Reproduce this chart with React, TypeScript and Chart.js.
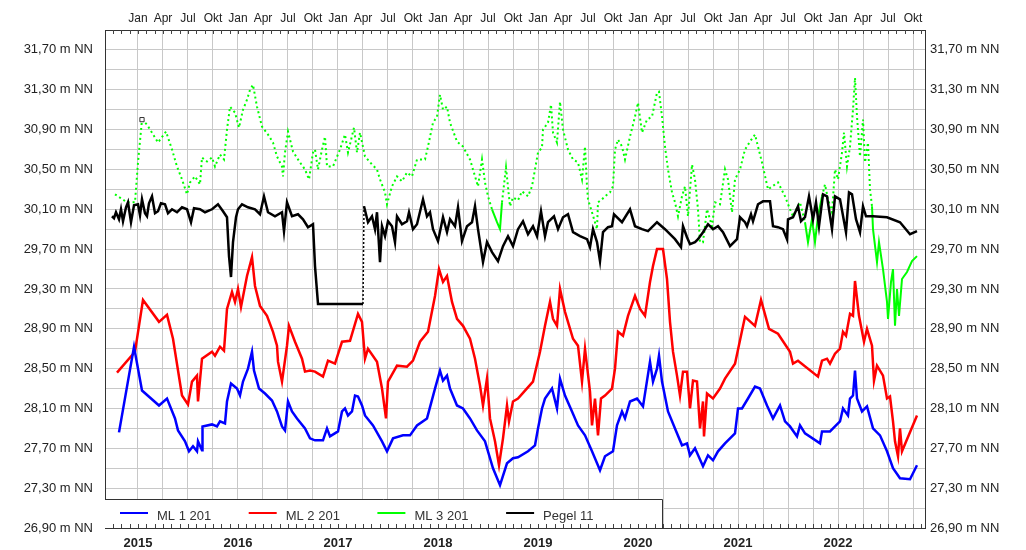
import React, { useEffect, useRef } from 'react';
import { Chart, registerables } from 'chart.js';

Chart.register(...registerables);

// ---------- data (x = decimal year, y = m NN) ----------
const ml1: [number, number][] = [
  [2014.81,27.86],[2014.96,28.72],[2015.04,28.28],[2015.21,28.13],[2015.29,28.20],[2015.37,28.00],[2015.40,27.88],[2015.47,27.77],[2015.51,27.67],[2015.55,27.72],[2015.59,27.67],[2015.60,27.77],[2015.64,27.68],[2015.645,27.92],[2015.74,27.94],[2015.79,27.92],[2015.82,27.97],[2015.87,27.95],[2015.89,28.17],[2015.93,28.35],[2015.99,28.30],[2016.02,28.23],[2016.05,28.37],[2016.10,28.50],[2016.14,28.67],[2016.16,28.48],[2016.21,28.30],[2016.27,28.25],[2016.34,28.18],[2016.39,28.07],[2016.44,27.92],[2016.47,27.88],[2016.50,28.17],[2016.54,28.07],[2016.59,28.00],[2016.67,27.90],[2016.72,27.80],[2016.77,27.78],[2016.85,27.78],[2016.89,27.90],[2016.92,27.82],[2017.00,27.87],[2017.04,28.07],[2017.07,28.10],[2017.10,28.03],[2017.14,28.07],[2017.17,28.23],[2017.20,28.22],[2017.24,28.13],[2017.27,28.03],[2017.35,27.93],[2017.44,27.77],[2017.49,27.67],[2017.55,27.80],[2017.65,27.83],[2017.72,27.83],[2017.79,27.93],[2017.89,28.00],[2017.97,28.30],[2018.02,28.48],[2018.05,28.38],[2018.09,28.43],[2018.12,28.30],[2018.19,28.13],[2018.25,28.10],[2018.32,28.00],[2018.39,27.88],[2018.47,27.77],[2018.55,27.50],[2018.62,27.33],[2018.69,27.55],[2018.75,27.60],[2018.80,27.61],[2018.90,27.67],[2018.97,27.73],[2019.00,27.90],[2019.04,28.10],[2019.07,28.20],[2019.14,28.30],[2019.19,28.10],[2019.22,28.40],[2019.27,28.23],[2019.34,28.07],[2019.40,27.93],[2019.47,27.83],[2019.54,27.67],[2019.62,27.48],[2019.67,27.62],[2019.75,27.67],[2019.79,27.93],[2019.84,28.07],[2019.87,28.00],[2019.92,28.17],[2019.99,28.20],[2020.05,28.12],[2020.12,28.57],[2020.15,28.37],[2020.19,28.50],[2020.21,28.63],[2020.24,28.37],[2020.30,28.07],[2020.37,27.90],[2020.44,27.73],[2020.49,27.75],[2020.52,27.63],[2020.57,27.70],[2020.65,27.52],[2020.70,27.63],[2020.75,27.58],[2020.80,27.67],[2020.87,27.75],[2020.97,27.85],[2021.00,28.10],[2021.04,28.10],[2021.10,28.20],[2021.17,28.32],[2021.22,28.30],[2021.29,28.13],[2021.35,28.00],[2021.42,28.13],[2021.47,27.97],[2021.52,27.92],[2021.59,27.82],[2021.62,27.93],[2021.67,27.85],[2021.82,27.75],[2021.84,27.87],[2021.92,27.87],[2021.97,27.92],[2022.02,27.97],[2022.05,28.10],[2022.10,28.03],[2022.12,28.20],[2022.15,28.23],[2022.17,28.48],[2022.19,28.20],[2022.24,28.07],[2022.29,28.12],[2022.35,27.90],[2022.42,27.83],[2022.49,27.67],[2022.55,27.50],[2022.62,27.40],[2022.72,27.39],[2022.79,27.53]
];

const ml2: [number, number][] = [
  [2014.79,28.46],[2014.97,28.67],[2015.05,29.19],[2015.21,28.97],[2015.29,29.04],[2015.35,28.80],[2015.44,28.23],[2015.50,28.14],[2015.54,28.37],[2015.59,28.43],[2015.60,28.17],[2015.64,28.60],[2015.74,28.67],[2015.77,28.63],[2015.82,28.72],[2015.86,28.68],[2015.89,29.10],[2015.94,29.27],[2015.97,29.17],[2016.00,29.30],[2016.03,29.12],[2016.09,29.43],[2016.14,29.62],[2016.17,29.33],[2016.22,29.13],[2016.29,29.03],[2016.35,28.87],[2016.39,28.73],[2016.40,28.57],[2016.44,28.37],[2016.49,28.73],[2016.51,28.93],[2016.57,28.77],[2016.64,28.60],[2016.67,28.47],[2016.72,28.48],[2016.77,28.47],[2016.85,28.42],[2016.90,28.58],[2016.97,28.55],[2017.04,28.77],[2017.12,28.78],[2017.20,29.05],[2017.24,28.97],[2017.27,28.60],[2017.30,28.70],[2017.39,28.57],[2017.44,28.30],[2017.48,28.00],[2017.50,28.37],[2017.59,28.53],[2017.69,28.52],[2017.75,28.58],[2017.82,28.77],[2017.90,28.87],[2017.97,29.23],[2018.01,29.50],[2018.05,29.37],[2018.09,29.43],[2018.14,29.17],[2018.19,29.00],[2018.25,28.93],[2018.32,28.80],[2018.37,28.60],[2018.42,28.33],[2018.45,28.13],[2018.49,28.40],[2018.52,28.00],[2018.57,27.77],[2018.61,27.53],[2018.65,27.80],[2018.69,28.13],[2018.71,27.97],[2018.75,28.17],[2018.80,28.20],[2018.87,28.28],[2018.95,28.37],[2019.02,28.67],[2019.07,28.93],[2019.12,29.17],[2019.15,29.00],[2019.19,28.93],[2019.22,29.30],[2019.27,29.07],[2019.35,28.80],[2019.40,28.73],[2019.44,28.37],[2019.47,28.70],[2019.52,28.27],[2019.54,27.93],[2019.57,28.20],[2019.60,27.83],[2019.63,28.20],[2019.67,28.23],[2019.74,28.30],[2019.77,28.50],[2019.80,28.87],[2019.85,28.83],[2019.90,29.03],[2019.97,29.23],[2020.02,29.10],[2020.07,29.03],[2020.12,29.37],[2020.15,29.53],[2020.19,29.70],[2020.25,29.70],[2020.29,29.40],[2020.32,28.97],[2020.35,28.67],[2020.39,28.43],[2020.42,28.23],[2020.45,28.47],[2020.49,28.47],[2020.52,28.10],[2020.55,28.38],[2020.59,28.37],[2020.62,27.90],[2020.65,28.17],[2020.66,27.82],[2020.69,28.25],[2020.75,28.20],[2020.82,28.30],[2020.87,28.40],[2020.97,28.55],[2021.07,29.02],[2021.17,28.93],[2021.23,29.19],[2021.31,28.90],[2021.40,28.85],[2021.52,28.67],[2021.55,28.55],[2021.60,28.58],[2021.80,28.42],[2021.84,28.58],[2021.89,28.60],[2021.92,28.55],[2021.97,28.65],[2022.02,28.70],[2022.05,28.87],[2022.08,28.83],[2022.12,29.05],[2022.15,29.03],[2022.17,29.38],[2022.21,29.03],[2022.26,28.77],[2022.29,28.90],[2022.34,28.73],[2022.36,28.38],[2022.39,28.53],[2022.45,28.43],[2022.49,28.20],[2022.52,28.22],[2022.55,27.97],[2022.57,27.77],[2022.60,27.62],[2022.62,27.90],[2022.64,27.67],[2022.79,28.03]
];

const ml3: [number, number][] = [
  [2014.77,30.25],[2014.89,30.17],[2014.97,30.17],[2015.00,30.57],[2015.04,31.00],[2015.09,30.95],[2015.20,30.77],[2015.28,30.88],[2015.34,30.70],[2015.39,30.53],[2015.44,30.40],[2015.49,30.25],[2015.52,30.37],[2015.57,30.43],[2015.62,30.35],[2015.64,30.62],[2015.69,30.58],[2015.74,30.62],[2015.77,30.53],[2015.82,30.65],[2015.86,30.60],[2015.89,30.90],[2015.92,31.13],[2015.97,31.07],[2016.01,30.92],[2016.05,31.10],[2016.09,31.20],[2016.12,31.30],[2016.15,31.35],[2016.19,31.13],[2016.24,30.93],[2016.30,30.85],[2016.35,30.77],[2016.39,30.63],[2016.44,30.53],[2016.45,30.43],[2016.47,30.67],[2016.50,30.88],[2016.55,30.68],[2016.62,30.57],[2016.67,30.50],[2016.71,30.40],[2016.75,30.67],[2016.77,30.70],[2016.80,30.50],[2016.84,30.70],[2016.87,30.83],[2016.89,30.53],[2016.95,30.53],[2017.02,30.70],[2017.07,30.85],[2017.10,30.67],[2017.16,30.92],[2017.19,30.67],[2017.22,30.87],[2017.27,30.63],[2017.34,30.55],[2017.39,30.50],[2017.42,30.40],[2017.47,30.27],[2017.49,30.15],[2017.54,30.33],[2017.59,30.43],[2017.64,30.38],[2017.69,30.47],[2017.74,30.43],[2017.79,30.60],[2017.87,30.60],[2017.90,30.73],[2017.95,30.97],[2017.99,31.03],[2018.02,31.25],[2018.05,31.10],[2018.09,31.13],[2018.12,30.97],[2018.19,30.78],[2018.25,30.73],[2018.32,30.60],[2018.35,30.50],[2018.40,30.33],[2018.44,30.60],[2018.47,30.37],[2018.50,30.23],[2018.54,30.10],[2018.59,29.97],[2018.62,29.90],[2018.64,30.17],[2018.68,30.52],[2018.72,30.13],[2018.75,30.22],[2018.80,30.19],[2018.84,30.28],[2018.90,30.23],[2018.94,30.33],[2018.97,30.50],[2019.00,30.67],[2019.04,30.72],[2019.05,30.90],[2019.10,30.97],[2019.13,31.15],[2019.15,30.87],[2019.19,30.77],[2019.22,31.18],[2019.25,30.90],[2019.30,30.70],[2019.35,30.60],[2019.40,30.57],[2019.44,30.40],[2019.47,30.73],[2019.49,30.33],[2019.50,30.20],[2019.54,30.07],[2019.59,29.90],[2019.60,30.17],[2019.64,30.20],[2019.67,30.23],[2019.72,30.27],[2019.75,30.33],[2019.77,30.70],[2019.80,30.80],[2019.84,30.73],[2019.87,30.60],[2019.92,30.83],[2019.97,31.03],[2020.00,31.17],[2020.04,30.87],[2020.09,31.00],[2020.14,31.03],[2020.19,31.27],[2020.21,31.28],[2020.24,31.03],[2020.27,30.73],[2020.30,30.50],[2020.34,30.27],[2020.37,30.17],[2020.40,30.03],[2020.44,30.23],[2020.47,30.33],[2020.50,30.03],[2020.54,30.55],[2020.57,30.40],[2020.60,30.10],[2020.62,29.77],[2020.65,29.77],[2020.69,30.10],[2020.74,29.93],[2020.77,30.17],[2020.82,30.15],[2020.87,30.50],[2020.90,30.40],[2020.94,30.07],[2020.97,30.40],[2021.02,30.50],[2021.07,30.70],[2021.12,30.78],[2021.17,30.85],[2021.24,30.57],[2021.30,30.30],[2021.40,30.37],[2021.47,30.23],[2021.52,30.10],[2021.55,30.03],[2021.62,30.17],[2021.67,29.97],[2021.70,29.77],[2021.74,30.00],[2021.77,29.77],[2021.80,30.03],[2021.84,30.23],[2021.87,30.35],[2021.90,30.20],[2021.94,30.07],[2021.97,30.50],[2022.00,30.40],[2022.04,30.67],[2022.06,30.87],[2022.09,30.53],[2022.12,30.73],[2022.15,31.10],[2022.17,31.42],[2022.19,31.03],[2022.22,30.63],[2022.25,31.00],[2022.27,30.57],[2022.30,30.77],[2022.32,30.30],[2022.34,30.13],[2022.35,29.90],[2022.39,29.57],[2022.41,29.77],[2022.45,29.50],[2022.49,29.17],[2022.50,29.00],[2022.53,29.37],[2022.55,29.50],[2022.57,28.93],[2022.59,29.30],[2022.61,29.03],[2022.64,29.40],[2022.69,29.47],[2022.74,29.58],[2022.79,29.63]
];

const pegel11: [number, number][] = [
  [2014.74,30.03],[2014.76,30.01],[2014.78,30.07],[2014.81,30.00],[2014.83,30.10],[2014.85,29.98],[2014.88,30.12],[2014.90,30.17],[2014.93,29.97],[2014.96,30.14],[2015.00,30.15],[2015.02,30.04],[2015.04,30.20],[2015.07,30.06],[2015.09,30.03],[2015.11,30.16],[2015.14,30.23],[2015.17,30.06],[2015.20,30.08],[2015.23,30.16],[2015.27,30.15],[2015.30,30.06],[2015.34,30.10],[2015.39,30.07],[2015.44,30.12],[2015.49,30.10],[2015.53,29.97],[2015.56,30.11],[2015.62,30.10],[2015.67,30.07],[2015.74,30.10],[2015.80,30.15],[2015.85,30.08],[2015.89,30.02],[2015.91,29.63],[2015.93,29.42],[2015.95,29.77],[2015.98,30.02],[2016.00,30.10],[2016.04,30.15],[2016.10,30.12],[2016.17,30.10],[2016.22,30.05],[2016.26,30.23],[2016.30,30.07],[2016.37,30.03],[2016.44,30.07],[2016.46,29.88],[2016.49,30.17],[2016.54,30.03],[2016.60,30.05],[2016.65,30.00],[2016.70,29.92],[2016.75,29.95],[2016.77,29.53],[2016.80,29.15],[2017.25,29.15],[2017.26,30.13],[2017.30,29.97],[2017.34,30.03],[2017.37,29.90],[2017.39,30.07],[2017.42,29.57],[2017.44,29.93],[2017.47,29.83],[2017.50,29.98],[2017.54,29.93],[2017.57,29.77],[2017.59,30.03],[2017.64,29.95],[2017.69,29.98],[2017.71,30.07],[2017.75,29.90],[2017.79,29.95],[2017.85,30.20],[2017.89,30.03],[2017.92,30.07],[2017.95,29.90],[2018.00,29.78],[2018.05,30.02],[2018.09,29.87],[2018.12,30.00],[2018.17,29.93],[2018.20,30.12],[2018.24,29.78],[2018.29,29.93],[2018.34,29.97],[2018.37,30.13],[2018.40,29.90],[2018.45,29.57],[2018.49,29.77],[2018.54,29.67],[2018.60,29.58],[2018.65,29.73],[2018.70,29.83],[2018.75,29.73],[2018.80,29.90],[2018.85,29.98],[2018.90,29.85],[2018.95,29.93],[2018.99,29.83],[2019.03,30.08],[2019.07,29.83],[2019.10,29.97],[2019.16,30.03],[2019.20,29.90],[2019.25,30.02],[2019.30,30.05],[2019.35,29.87],[2019.42,29.83],[2019.49,29.80],[2019.52,29.72],[2019.55,29.90],[2019.59,29.77],[2019.62,29.58],[2019.65,29.87],[2019.70,29.92],[2019.74,29.93],[2019.76,30.05],[2019.84,29.97],[2019.92,30.10],[2019.97,29.93],[2020.04,29.90],[2020.10,29.88],[2020.19,29.97],[2020.27,29.90],[2020.37,29.80],[2020.43,29.72],[2020.45,29.93],[2020.49,29.82],[2020.52,29.75],[2020.57,29.77],[2020.60,29.80],[2020.65,29.87],[2020.70,29.95],[2020.75,29.90],[2020.80,29.93],[2020.85,29.87],[2020.92,29.73],[2020.99,29.80],[2021.02,30.02],[2021.07,29.97],[2021.09,29.93],[2021.13,30.05],[2021.15,29.98],[2021.20,30.15],[2021.25,30.18],[2021.32,30.18],[2021.35,29.93],[2021.40,29.92],[2021.45,29.90],[2021.49,29.80],[2021.50,30.00],[2021.55,30.02],[2021.60,30.13],[2021.63,29.98],[2021.67,30.02],[2021.71,30.23],[2021.75,30.00],[2021.78,30.17],[2021.81,29.93],[2021.85,30.25],[2021.89,30.23],[2021.94,29.90],[2021.97,30.23],[2022.02,30.20],[2022.08,29.87],[2022.11,30.27],[2022.14,30.25],[2022.18,30.00],[2022.22,29.87],[2022.25,30.13],[2022.28,30.03],[2022.35,30.03],[2022.49,30.02],[2022.62,29.97],[2022.72,29.85],[2022.79,29.88]
];

const markers: [number, number][] = [[2015.04, 31.00]];

const seriesNames = ['ML 1 201', 'ML 2 201', 'ML 3 201', 'Pegel 11'];
const seriesColors = ['#0000ff', '#ff0000', '#00ff00', '#000000'];

const yearLabels = [2015, 2016, 2017, 2018, 2019, 2020, 2021, 2022];
const monthLabels = ['Jan', 'Apr', 'Jul', 'Okt'];
const yLabelValues = [26.9, 27.3, 27.7, 28.1, 28.5, 28.9, 29.3, 29.7, 30.1, 30.5, 30.9, 31.3, 31.7];

const X_MIN = 2014.67;
const X_MAX = 2022.87;
const Y_MIN = 26.9;
const Y_MAX = 31.9;

const quarterTicks: number[] = [];
yearLabels.forEach((yr) => monthLabels.forEach((_, q) => quarterTicks.push(yr + q * 0.25)));
const yGridTicks: number[] = [];
yLabelValues.forEach((v) => { yGridTicks.push(v); if (v + 0.2 <= Y_MAX + 1e-9) yGridTicks.push(+(v + 0.2).toFixed(2)); });

const toXY = (arr: [number, number][]) => arr.map(([x, y]) => ({ x, y }));
const yLabel = (v: number) => {
  const k = Math.round((v - Y_MIN) / 0.2);
  return k % 2 === 0 ? `${v.toFixed(2).replace('.', ',')} m NN` : '';
};
const FONT = "'Liberation Sans', Arial, sans-serif";

const overlayPlugin = {
  id: 'overlay',
  afterDraw(chart: any) {
    const ctx = chart.ctx as CanvasRenderingContext2D;
    const { left, top, bottom } = chart.chartArea;
    const xs = chart.scales.x;
    ctx.save();
    // legend box
    const lx0 = left, lx1 = 662, ly0 = 499, ly1 = bottom;
    ctx.fillStyle = '#ffffff';
    ctx.fillRect(lx0, ly0, lx1 - lx0, ly1 - ly0);
    ctx.strokeStyle = '#333';
    ctx.lineWidth = 1;
    ctx.beginPath();
    ctx.moveTo(lx0, ly0 + 0.5);
    ctx.lineTo(lx1 + 0.5, ly0 + 0.5);
    ctx.lineTo(lx1 + 0.5, ly1);
    ctx.stroke();
    ctx.font = `13px ${FONT}`;
    ctx.textBaseline = 'middle';
    ctx.textAlign = 'left';
    seriesNames.forEach((name, i) => {
      const x = 120 + i * 128.7;
      ctx.strokeStyle = seriesColors[i];
      ctx.lineWidth = 2;
      ctx.beginPath();
      ctx.moveTo(x, 513);
      ctx.lineTo(x + 28, 513);
      ctx.stroke();
      ctx.fillStyle = '#333';
      ctx.fillText(name, x + 37, 516);
    });
    // monthly minor ticks (inside)
    ctx.strokeStyle = '#444';
    ctx.lineWidth = 1;
    ctx.beginPath();
    for (let m = 0; m < 12 * 10; m++) {
      const v = 2014 + m / 12;
      if (v < X_MIN || v > X_MAX) continue;
      const px = Math.round(xs.getPixelForValue(v)) + 0.5;
      ctx.moveTo(px, top);
      ctx.lineTo(px, top + 4);
      ctx.moveTo(px, bottom);
      ctx.lineTo(px, bottom - 4);
    }
    ctx.stroke();
    ctx.restore();
  },
};

export default function App() {
  const ref = useRef<HTMLCanvasElement | null>(null);
  useEffect(() => {
    if (!ref.current) return;
    Chart.defaults.font.family = FONT;
    const greenSolid = (x: number) => x >= 2022.34 || (x >= 2018.53 && x < 2018.63) || (x >= 2021.66 && x < 2021.81);
    const chart = new Chart(ref.current, {
      type: 'line',
      data: {
        datasets: [
          {
            label: 'marker', data: toXY(markers), showLine: false, pointStyle: 'rect', pointRadius: 3,
            pointBackgroundColor: '#ffffff', pointBorderColor: '#333', pointBorderWidth: 1, borderColor: '#333',
          },
          { label: seriesNames[0], data: toXY(ml1), borderColor: seriesColors[0], borderWidth: 2.5, pointRadius: 0, tension: 0 },
          { label: seriesNames[1], data: toXY(ml2), borderColor: seriesColors[1], borderWidth: 2.5, pointRadius: 0, tension: 0 },
          {
            label: seriesNames[3], data: toXY(pegel11), borderColor: seriesColors[3], borderWidth: 2.5, pointRadius: 0, tension: 0,
            segment: {
              borderDash: (c: any) => (c.p0.parsed.y < 29.2 && c.p1.parsed.y > 30 ? [2, 2] : undefined),
              borderWidth: (c: any) => (c.p0.parsed.y < 29.2 && c.p1.parsed.y > 30 ? 1.5 : undefined),
            },
          },
          {
            label: seriesNames[2], data: toXY(ml3), borderColor: seriesColors[2], borderWidth: 2, pointRadius: 0, tension: 0,
            segment: {
              borderDash: (c: any) => (greenSolid(c.p0.parsed.x) ? undefined : [2, 3]),
            },
          },
        ],
      },
      options: {
        animation: false,
        responsive: true,
        maintainAspectRatio: false,
        events: [],
        layout: { padding: 0 },
        plugins: { legend: { display: false }, tooltip: { enabled: false } },
        scales: {
          x: {
            type: 'linear', position: 'bottom', min: X_MIN, max: X_MAX,
            afterBuildTicks: (s: any) => { s.ticks = quarterTicks.map((v) => ({ value: v })); },
            afterFit: (s: any) => { s.height = 22; },
            ticks: {
              autoSkip: false, maxRotation: 0, minRotation: 0, padding: 8, color: '#222',
              font: { size: 13, weight: 'bold' },
              callback: (v: any) => (Math.abs(v - Math.round(v)) < 1e-6 ? String(Math.round(v)) : ''),
            },
            grid: { color: '#c8c8c8', lineWidth: 1, drawTicks: false },
            border: { display: true, color: '#333', width: 1 },
          },
          x2: {
            type: 'linear', position: 'top', min: X_MIN, max: X_MAX,
            afterBuildTicks: (s: any) => { s.ticks = quarterTicks.map((v) => ({ value: v })); },
            afterFit: (s: any) => { s.height = 30; },
            ticks: {
              autoSkip: false, maxRotation: 0, minRotation: 0, padding: 4, color: '#222',
              font: { size: 12 },
              callback: (v: any) => monthLabels[Math.round((((v % 1) + 1) % 1) * 4) % 4],
            },
            grid: { display: false, drawTicks: false },
            border: { display: true, color: '#333', width: 1 },
          },
          y: {
            type: 'linear', position: 'left', min: Y_MIN, max: Y_MAX,
            afterBuildTicks: (s: any) => { s.ticks = yGridTicks.map((v) => ({ value: v })); },
            afterFit: (s: any) => { s.width = 105; },
            ticks: { autoSkip: false, padding: 12, color: '#222', font: { size: 13 }, callback: (v: any) => yLabel(v) },
            grid: { color: '#c8c8c8', lineWidth: 1, drawTicks: false },
            border: { display: true, color: '#333', width: 1 },
          },
          y2: {
            type: 'linear', position: 'right', min: Y_MIN, max: Y_MAX,
            afterBuildTicks: (s: any) => { s.ticks = yGridTicks.map((v) => ({ value: v })); },
            afterFit: (s: any) => { s.width = 101; },
            ticks: { autoSkip: false, padding: 5, color: '#222', font: { size: 13 }, callback: (v: any) => yLabel(v) },
            grid: { display: false, drawTicks: false },
            border: { display: true, color: '#333', width: 1 },
          },
        },
      } as any,
      plugins: [overlayPlugin],
    });
    return () => chart.destroy();
  }, []);
  return (
    <div style={{ position: 'fixed', left: 0, top: 0, width: 1026, height: 550, background: '#fff' }}>
      <canvas ref={ref} />
    </div>
  );
}
